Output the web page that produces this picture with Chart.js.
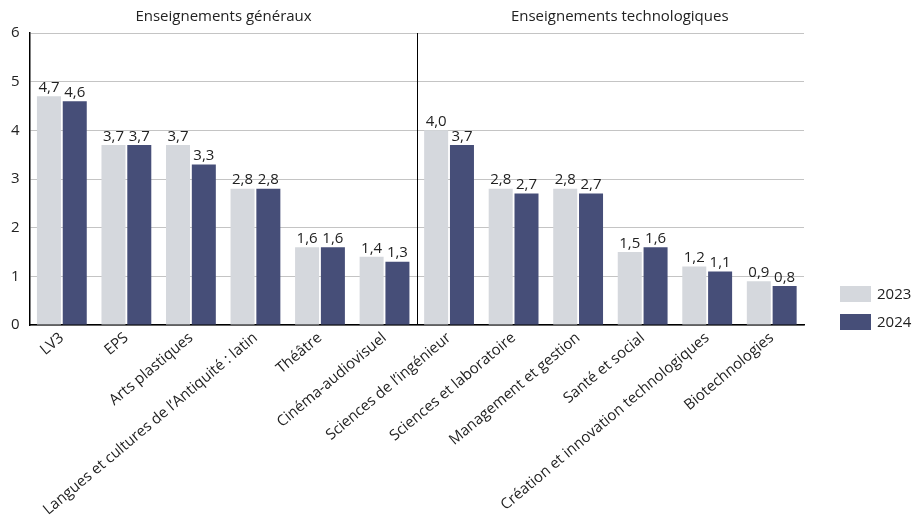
<!DOCTYPE html>
<html>
<head>
<meta charset="utf-8">
<script src="https://cdn.jsdelivr.net/npm/chart.js@4/dist/chart.umd.min.js"></script>
<style>
  html, body { margin: 0; padding: 0; background: #fff; }
  #wrap { width: 912px; height: 520px; position: relative; }
</style>
</head>
<body>
<div id="wrap"><canvas id="c" width="912" height="520"></canvas></div>
<script>
const categories = [
  "LV3", "EPS", "Arts plastiques", "Langues et cultures de l’Antiquité : latin",
  "Théâtre", "Cinéma-audiovisuel", "Sciences de l’ingénieur", "Sciences et laboratoire",
  "Management et gestion", "Santé et social", "Création et innovation technologiques", "Biotechnologies"
];
const values2023 = [4.7, 3.7, 3.7, 2.8, 1.6, 1.4, 4.0, 2.8, 2.8, 1.5, 1.2, 0.9];
const values2024 = [4.6, 3.7, 3.3, 2.8, 1.6, 1.3, 3.7, 2.7, 2.7, 1.6, 1.1, 0.8];
const seriesNames = ["2023", "2024"];
const groups = [
  { title: "Enseignements généraux", from: 0, to: 5 },
  { title: "Enseignements technologiques", from: 6, to: 11 }
];
const yTicks = [0, 1, 2, 3, 4, 5, 6];

const FONT = "'Open Sans', sans-serif";
const colors = ["#d5d8dd", "#464e78"];
const titleShift = [0, 9];

const extras = {
  id: "extras",
  afterDatasetsDraw(chart) {
    const ctx = chart.ctx;
    const area = chart.chartArea;
    const xs = chart.scales.x;
    ctx.save();
    // value labels
    ctx.font = "15px " + FONT;
    ctx.fillStyle = "#222";
    ctx.textAlign = "center";
    ctx.textBaseline = "bottom";
    chart.data.datasets.forEach((ds, di) => {
      const meta = chart.getDatasetMeta(di);
      meta.data.forEach((bar, i) => {
        const v = ds.data[i];
        ctx.fillText(v.toFixed(1).replace(".", ","), bar.x, bar.y - 1);
      });
    });
    // divider
    const divX = Math.round((xs.getPixelForValue(5) + xs.getPixelForValue(6)) / 2) + 0.5;
    ctx.strokeStyle = "#000";
    ctx.lineWidth = 1;
    ctx.beginPath();
    ctx.moveTo(divX, area.top);
    ctx.lineTo(divX, area.bottom);
    ctx.stroke();
    // group titles
    ctx.font = "15px " + FONT;
    ctx.fillStyle = "#222";
    ctx.textBaseline = "middle";
    groups.forEach((g, gi) => {
      const left = gi === 0 ? area.left : divX;
      const right = gi === groups.length - 1 ? area.right : divX;
      ctx.fillText(g.title, (left + right) / 2 + titleShift[gi], area.top - 16);
    });
    // legend
    const lx = area.right + 36;
    const ly = [286, 314];
    ctx.textAlign = "left";
    seriesNames.forEach((name, i) => {
      ctx.fillStyle = colors[i];
      ctx.fillRect(lx, ly[i], 31, 16);
      ctx.fillStyle = "#222";
      ctx.font = "15px " + FONT;
      ctx.fillText(name, lx + 37, ly[i] + 8.5);
    });
    ctx.restore();
  }
};

new Chart(document.getElementById("c"), {
  type: "bar",
  data: {
    labels: categories,
    datasets: seriesNames.map((n, i) => ({
      label: n,
      data: i === 0 ? values2023 : values2024,
      backgroundColor: colors[i],
      borderWidth: 0,
      categoryPercentage: 0.8,
      barPercentage: 0.93
    }))
  },
  options: {
    responsive: false,
    animation: false,
    devicePixelRatio: 1,
    layout: { padding: { top: 33, right: 108, left: 1, bottom: 0 } },
    plugins: { legend: { display: false }, tooltip: { enabled: false } },
    scales: {
      x: {
        grid: { display: false, drawTicks: false },
        border: { color: "#000", width: 1.5 },
        afterFit(scale) { scale.height = 195; },
        ticks: {
          minRotation: 40, maxRotation: 40, autoSkip: false,
          font: { family: FONT, size: 15 }, color: "#222", padding: 4
        }
      },
      y: {
        min: 0, max: 6,
        afterBuildTicks(scale) { scale.ticks = yTicks.map(v => ({ value: v })); },
        grid: { color: "#c4c4c4", drawTicks: false, lineWidth: 1 },
        border: { color: "#000", width: 1.5 },
        ticks: { font: { family: FONT, size: 15 }, color: "#222", padding: 10, stepSize: 1 }
      }
    }
  },
  plugins: [extras]
});
</script>
</body>
</html>
